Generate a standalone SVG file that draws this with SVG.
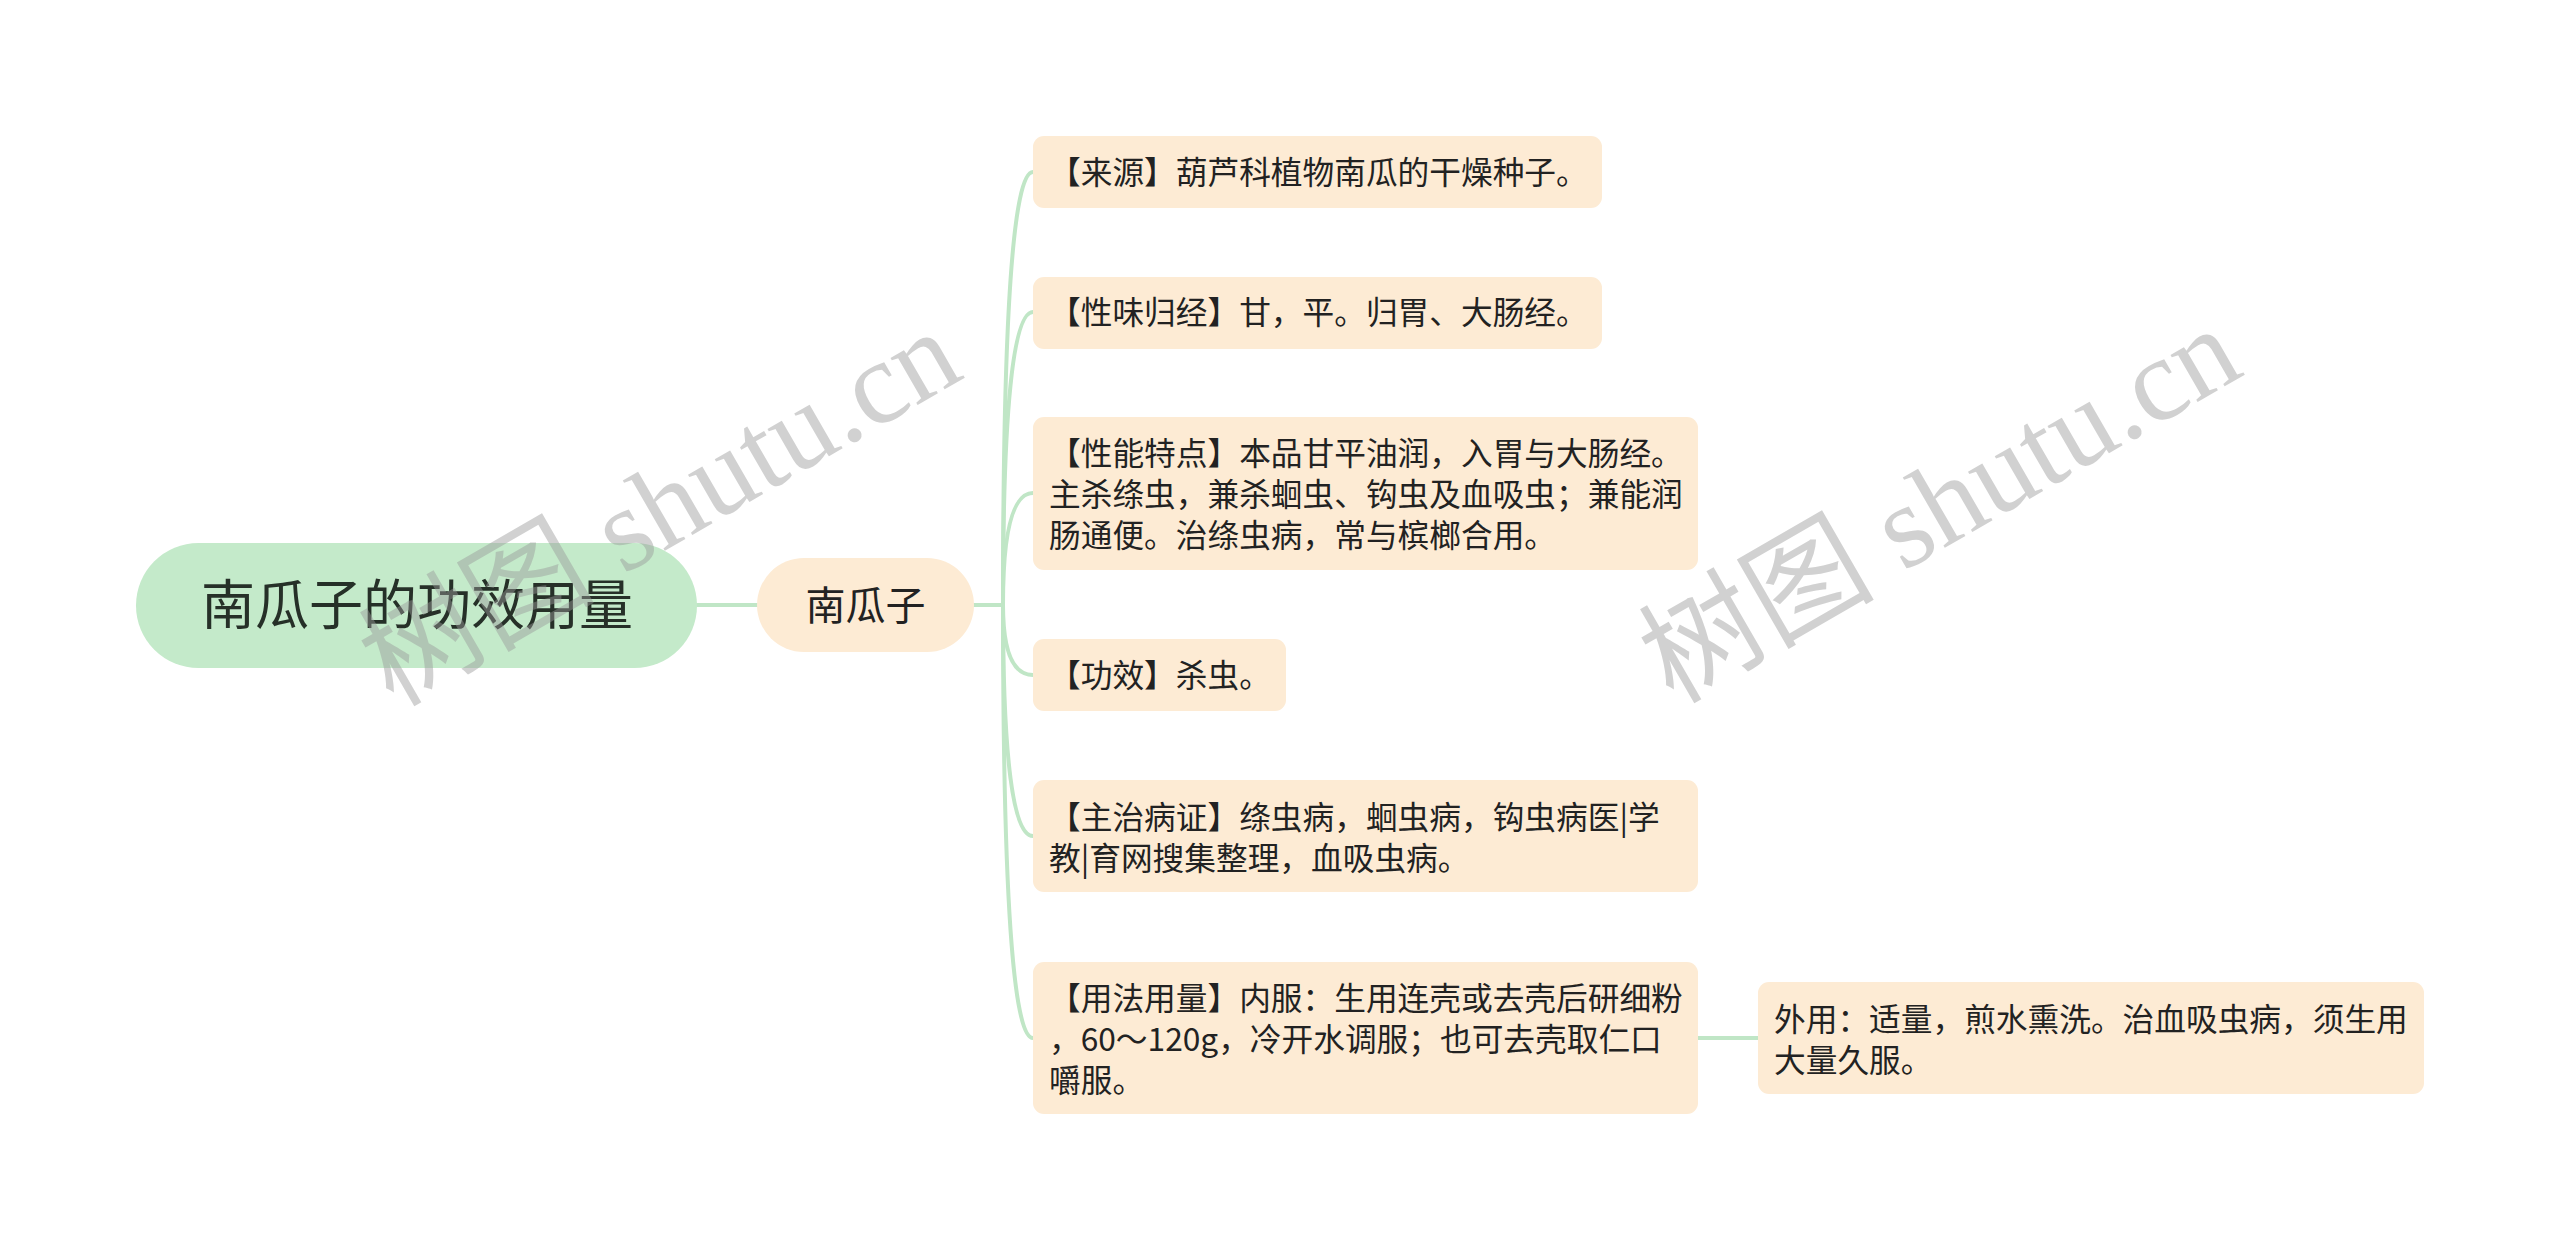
<svg xmlns="http://www.w3.org/2000/svg" width="2560" height="1251" viewBox="0 0 2560 1251">
<style>
.t{font-family:"Noto Sans CJK SC","Noto Sans",sans-serif;fill:#222;}
.leaf{fill:#fdebd4;}
.lt{font-size:31.7px;}
.conn{fill:none;stroke:#c0e6c6;stroke-width:4;stroke-linecap:round;}
.wm{font-family:"Liberation Serif","Noto Sans CJK SC",serif;font-size:118px;fill:#9a9a9a;opacity:0.45;}
</style>
<rect width="2560" height="1251" fill="#ffffff"/>
<g id="connectors">
<line class="conn" x1="697" y1="605" x2="757" y2="605"/>
<line class="conn" x1="974" y1="605" x2="1003" y2="605"/>
<path class="conn" d="M1003 605 Q1003 172 1033 172"/>
<path class="conn" d="M1003 605 Q1003 312 1033 312"/>
<path class="conn" d="M1003 605 Q1003 493 1033 493"/>
<path class="conn" d="M1003 605 Q1003 675 1033 675"/>
<path class="conn" d="M1003 605 Q1003 836 1033 836"/>
<path class="conn" d="M1003 605 Q1003 1038 1033 1038"/>
<line class="conn" x1="1698" y1="1038" x2="1758" y2="1038"/>
</g>
<g id="root">
<rect x="136" y="543" width="561" height="125" rx="62.5" fill="#c4eaca"/>
<text class="t" x="417" y="625" font-size="54" text-anchor="middle" style="fill:#263028">南瓜子的功效用量</text>
</g>
<g id="main">
<rect x="757" y="558" width="217" height="94" rx="47" class="leaf"/>
<text class="t" x="865.5" y="620" font-size="40" text-anchor="middle">南瓜子</text>
</g>
<g id="leaf1">
<rect class="leaf" x="1033" y="136" width="569" height="72" rx="11"/>
<text class="t lt" x="1049" y="184">【来源】葫芦科植物南瓜的干燥种子。</text>
</g>
<g id="leaf2">
<rect class="leaf" x="1033" y="277" width="569" height="72" rx="11"/>
<text class="t lt" x="1049" y="324">【性味归经】甘，平。归胃、大肠经。</text>
</g>
<g id="leaf3">
<rect class="leaf" x="1033" y="417" width="665" height="153" rx="11"/>
<text class="t lt" x="1049" y="465">【性能特点】本品甘平油润，入胃与大肠经。</text>
<text class="t lt" x="1049" y="506">主杀绦虫，兼杀蛔虫、钩虫及血吸虫；兼能润</text>
<text class="t lt" x="1049" y="547">肠通便。治绦虫病，常与槟榔合用。</text>
</g>
<g id="leaf4">
<rect class="leaf" x="1033" y="639" width="253" height="72" rx="11"/>
<text class="t lt" x="1049" y="687">【功效】杀虫。</text>
</g>
<g id="leaf5">
<rect class="leaf" x="1033" y="780" width="665" height="112" rx="11"/>
<text class="t lt" x="1049" y="829">【主治病证】绦虫病，蛔虫病，钩虫病医|学</text>
<text class="t lt" x="1049" y="870">教|育网搜集整理，血吸虫病。</text>
</g>
<g id="leaf6">
<rect class="leaf" x="1033" y="962" width="665" height="152" rx="11"/>
<text class="t lt" x="1049" y="1010">【用法用量】内服：生用连壳或去壳后研细粉</text>
<text class="t lt" x="1049" y="1051">，60～120g，冷开水调服；也可去壳取仁口</text>
<text class="t lt" x="1049" y="1092">嚼服。</text>
</g>
<g id="leaf7">
<rect class="leaf" x="1758" y="982" width="666" height="112" rx="11"/>
<text class="t lt" x="1774" y="1031">外用：适量，煎水熏洗。治血吸虫病，须生用</text>
<text class="t lt" x="1774" y="1072">大量久服。</text>
</g>
<g id="watermarks">
<text class="wm" transform="translate(660,508) rotate(-30)" text-anchor="middle" dominant-baseline="central">树图 shutu.cn</text>
<text class="wm" transform="translate(1940,505) rotate(-30)" text-anchor="middle" dominant-baseline="central">树图 shutu.cn</text>
</g>
</svg>
